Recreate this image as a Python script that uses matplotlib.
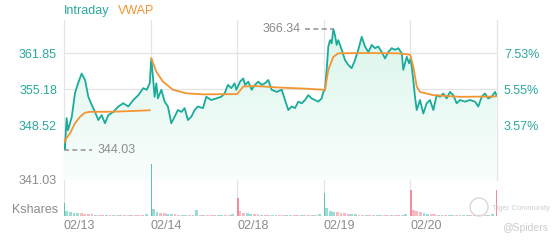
import numpy as np
import matplotlib
matplotlib.use('Agg')
import matplotlib.pyplot as plt
from matplotlib.patches import Polygon, Circle
from matplotlib.colors import LinearSegmentedColormap

plt.rcParams['font.family'] = ['Liberation Sans', 'DejaVu Sans']

# --- data ---
days = ['02/13', '02/14', '02/18', '02/19', '02/20']
prev_close = 336.51
price_ticks = [361.85, 355.18, 348.52]
bottom_label = '341.03'
hi_t, hi_price = 3.11, 366.34
lo_t, lo_price = 0.01, 344.03

# time in trading days (day index + fraction of session)
price_t = [0.0, 0.01, 0.03, 0.046, 0.09, 0.127, 0.162, 0.204, 0.243, 0.281, 0.32, 0.358,
           0.396, 0.435, 0.473, 0.511, 0.569, 0.627, 0.685, 0.742, 0.8, 0.858, 0.916,
           0.955, 0.99,
           1.008, 1.027, 1.046, 1.066, 1.084, 1.124, 1.162, 1.2, 1.239, 1.277, 1.315,
           1.355, 1.393, 1.431, 1.47, 1.508, 1.546, 1.604, 1.643, 1.7, 1.758, 1.816,
           1.854, 1.893, 1.932, 1.97, 1.99,
           2.005, 2.032, 2.07, 2.09, 2.128, 2.167, 2.205, 2.243, 2.283, 2.321, 2.359,
           2.398, 2.456, 2.514, 2.552, 2.59, 2.629, 2.667, 2.706, 2.744, 2.783, 2.821,
           2.86, 2.898, 2.936, 2.975, 2.995,
           3.014, 3.033, 3.052, 3.072, 3.091, 3.11, 3.129, 3.149, 3.167, 3.207, 3.245,
           3.283, 3.322, 3.36, 3.398, 3.438, 3.476, 3.515, 3.554, 3.591, 3.629, 3.669,
           3.707, 3.745, 3.784, 3.822, 3.861, 3.9, 3.918, 3.958, 3.985,
           4.003, 4.015, 4.033, 4.053, 4.073, 4.111, 4.149, 4.188, 4.226, 4.265, 4.303,
           4.342, 4.38, 4.419, 4.457, 4.495, 4.534, 4.573, 4.63, 4.688, 4.746, 4.784,
           4.823, 4.861, 4.899, 4.938, 4.977, 4.994]
price_v = [345.3, 344.03, 349.85, 347.6, 350.1, 354.5, 356.3, 358.1, 356.9, 353.8, 352.3, 351.0,
           349.5, 350.4, 348.9, 350.4, 351.0, 352.0, 352.6, 352.0, 353.2, 354.1, 355.4,
           355.1, 356.3,
           360.9, 357.5, 353.8, 356.3, 353.5, 355.1, 352.9, 352.0, 348.9, 350.1, 351.35,
           351.0, 351.7, 349.5, 350.1, 351.35, 352.0, 351.7, 353.8, 353.2, 353.5, 353.8,
           354.4, 356.0, 355.4, 356.3, 355.1,
           355.6, 356.6, 357.2, 356.0, 356.6, 355.1, 356.0, 356.6, 356.0, 356.3, 356.9,
           355.1, 354.7, 355.1, 353.2, 351.35, 352.0, 351.7, 352.9, 352.6, 353.2, 354.1,
           353.5, 353.2, 352.9, 353.5, 354.7,
           355.1, 358.8, 363.1, 364.3, 363.7, 366.34, 365.2, 363.4, 364.3, 362.5, 360.6,
           359.7, 359.1, 360.6, 362.5, 364.9, 363.1, 362.1, 363.4, 362.8, 363.1, 362.1,
           360.9, 362.1, 362.8, 362.5, 362.8, 361.85, 358.8, 361.2, 360.0,
           360.9, 359.4, 356.9, 353.8, 351.35, 353.2, 350.7, 352.6, 353.2, 351.35, 354.1,
           353.8, 354.4, 353.5, 354.7, 354.1, 352.6, 353.2, 352.9, 353.2, 352.9, 352.0,
           353.8, 354.4, 353.5, 353.8, 354.7, 354.1]

# nan marks the VWAP reset between the first two sessions
vwap_t = [0.0, 0.012, 0.069, 0.127, 0.185, 0.242, 0.3, 0.6, 0.99, np.nan,
          1.008, 1.066, 1.143, 1.258, 1.412, 1.604, 1.99,
          2.0, 2.07, 2.2, 2.5, 2.8, 2.99,
          3.014, 3.052, 3.11, 3.167, 3.5, 3.85, 3.99,
          4.0, 4.033, 4.073, 4.111, 4.265, 4.573, 4.96, 4.994]
vwap_v = [345.3, 345.8, 347.0, 348.9, 350.1, 350.85, 351.0, 351.05, 351.3, np.nan,
          360.9, 358.45, 356.6, 355.1, 354.45, 354.25, 354.3,
          354.3, 355.7, 355.8, 355.5, 355.3, 355.1,
          355.1, 358.8, 361.2, 361.85, 361.9, 361.85, 361.6,
          361.5, 359.4, 355.7, 354.7, 354.1, 353.8, 353.85, 353.9]

# volume (Kshares, chart units); opening auction spike + 23 regular bins per day
open_vol = [13, 52, 18, 23, 26]
open_dir = 'uudud'
close_vol = 26
vol = [
    [5, 4, 3, 3, 3, 2.5, 2, 2, 1.5, 1.5, 1.5, 1.2, 1.2, 1.2, 1.2, 1.2, 1.2, 1.2, 1.2, 1.5, 1.2, 1.5, 2],
    [7, 4, 3.5, 3, 2.5, 2, 2, 1.5, 1.5, 1.5, 1.2, 1.2, 6, 1.2, 1.2, 1.2, 1.2, 1.2, 1.2, 1.5, 1.5, 1.5, 2],
    [5, 3.5, 3, 2.5, 2, 2, 1.5, 1.5, 1.2, 1.2, 1.2, 1.2, 1.2, 1.2, 1.2, 1.2, 1.2, 1.2, 1.2, 1.2, 1.5, 1.5, 2],
    [8, 5, 4.5, 4, 3.5, 3, 2.5, 2.5, 2, 1.5, 1.5, 1.5, 1.5, 1.2, 1.2, 1.2, 1.2, 1.2, 1.2, 1.5, 1.5, 1.5, 2],
    [6, 5, 4, 3, 2.5, 2.5, 2, 1.5, 1.5, 1.5, 1.5, 1.2, 1.2, 1.2, 1.2, 1.2, 1.2, 1.2, 1.2, 1.5, 1.5, 1.5, 2],
]
vol_dir = ['uuuudddduddudududdudddu',
           'uudduudduuduududdduuddu',
           'dduuddudduudduudduddudu',
           'uuudddduuddudduuddudduu',
           'ddduuddudduudduuddudduu']

# --- style ---
teal = '#1aab9b'
teal_txt = '#2aa99c'
orange = '#f39532'
gray_txt = '#8c8c8c'
grid = '#e4e4e4'
up_c = '#5cc5b8'
dn_c = '#f08c9c'

W, H = 560, 240
fig = plt.figure(figsize=(W / 100, H / 100), dpi=100)

px0, px1 = 64, 497
py_top, py_bot = 20, 180
ylo, yhi = 338.39, 368.02

ax = fig.add_axes([px0 / W, 1 - py_bot / H, (px1 - px0) / W, (py_bot - py_top) / H])
ax.set_xlim(0, 5)
ax.set_ylim(ylo, yhi)
for s in ax.spines.values():
    s.set_visible(False)

for p in price_ticks + [ylo]:
    ax.axhline(p, color=grid, lw=0.9, zorder=0)
for d in range(6):
    ax.axvline(d, color=grid, lw=0.9, zorder=0, clip_on=False)

# gradient fill under the price line
verts = [(price_t[0], ylo)] + list(zip(price_t, price_v)) + [(price_t[-1], ylo)]
poly = Polygon(verts, closed=True, facecolor='none', edgecolor='none')
ax.add_patch(poly)
cm = LinearSegmentedColormap.from_list('fill', ['#fafefc', '#d8f5ea'])
grad = np.linspace(1, 0, 256).reshape(-1, 1)
im = ax.imshow(grad, extent=[0, 5, ylo, yhi], aspect='auto', cmap=cm, origin='upper', zorder=1)
im.set_clip_path(poly)

ax.plot(price_t, price_v, color=teal, lw=1.3, zorder=3)
ax.plot(vwap_t, vwap_v, color=orange, lw=1.3, zorder=4)

# high / low markers
ax.hlines(hi_price, hi_t - 0.33, hi_t, colors='#999999', lw=1.2, linestyles=(0, (3, 2)), zorder=5)
ax.text(hi_t - 0.38, hi_price, f'{hi_price:.2f}', ha='right', va='center', color=gray_txt, fontsize=9)
ax.hlines(lo_price, lo_t - 0.01, lo_t + 0.31, colors='#999999', lw=1.2, linestyles=(0, (3, 2)), zorder=5)
ax.text(lo_t + 0.38, lo_price, f'{lo_price:.2f}', ha='left', va='center', color=gray_txt, fontsize=9)

# left price labels
ax.set_xticks([])
ax.set_yticks(price_ticks + [ylo])
ax.set_yticklabels([f'{p:.2f}' for p in price_ticks] + [bottom_label], fontsize=9)
ax.tick_params(axis='y', length=0, pad=5)
for lab in ax.get_yticklabels()[:3]:
    lab.set_color(teal_txt)
ax.get_yticklabels()[3].set_color(gray_txt)

# right percent labels
ax2 = ax.twinx()
ax2.set_ylim(ylo, yhi)
ax2.set_yticks(price_ticks)
ax2.set_yticklabels([f'{(p / prev_close - 1) * 100:.2f}%' for p in price_ticks],
                    fontsize=9, color=teal_txt)
ax2.tick_params(axis='y', length=0, pad=5)
for s in ax2.spines.values():
    s.set_visible(False)

# volume panel
vb = 216
ax_v = fig.add_axes([px0 / W, 1 - vb / H, (px1 - px0) / W, 66 / H])
ax_v.patch.set_visible(False)
ax_v.set_xlim(0, 5)
ax_v.set_ylim(0, 66)
for s in ax_v.spines.values():
    s.set_visible(False)
ax_v.vlines(range(6), 0, 36, colors=grid, lw=0.9, zorder=0)
ax_v.axhline(0.3, color='#dddddd', lw=0.8, zorder=1)

nb = 23
bw = 1 / (nb + 1)
for d in range(5):
    c = up_c if open_dir[d] == 'u' else dn_c
    ax_v.bar(d + 0.008, open_vol[d], width=0.016, color=c, zorder=3)
    xs = d + bw * (np.arange(nb) + 1) - 0.01
    cols = [up_c if ch == 'u' else dn_c for ch in vol_dir[d]]
    ax_v.bar(xs, vol[d], width=bw * 0.8, color=cols, alpha=0.6, zorder=2)
ax_v.bar(4.993, close_vol, width=0.014, color=dn_c, zorder=3)

ax_v.set_yticks([])
ax_v.set_xticks(range(5))
ax_v.set_xticklabels(days, fontsize=9, color=gray_txt, ha='left')
ax_v.tick_params(axis='x', length=0, pad=3)
ax_v.text(-0.07, 6, 'Kshares', ha='right', va='center', fontsize=9, color=gray_txt)

# legend header
fig.text(64 / W, 1 - 11 / H, 'Intraday', color=teal_txt, fontsize=9, va='center')
fig.text(118 / W, 1 - 11 / H, 'VWAP', color=orange, fontsize=9, va='center')

# watermark
fig.add_artist(Circle((4.79, 0.33), 0.09, transform=fig.dpi_scale_trans,
                      fill=False, edgecolor='#d8d8d8', lw=1))
fig.text(492 / W, 1 - 208 / H, 'Tiger Community', fontsize=5.5, color='#cfcfcf', va='center')
fig.text(548 / W, 1 - 228 / H, '@Spiders', fontsize=7.5, color='#cccccc', va='center', ha='right')

fig.savefig('out.png', dpi=100)
